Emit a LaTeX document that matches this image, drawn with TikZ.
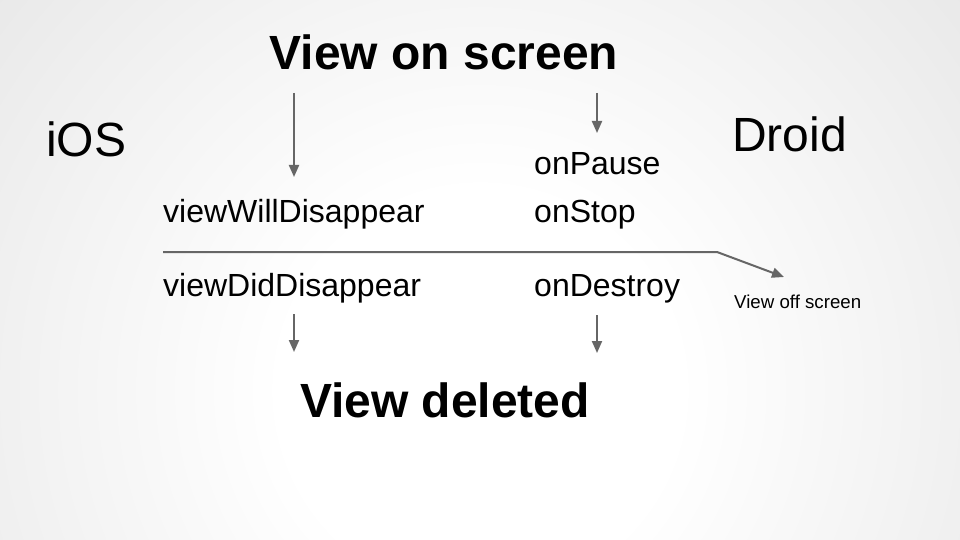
\documentclass[tikz,border=0pt]{standalone}
\usepackage{fontspec}
\setmainfont{Liberation Sans}
\usetikzlibrary{arrows.meta}

\definecolor{arrowgray}{HTML}{666666}
\pgfdeclareradialshading{slidebg}{\pgfpoint{0bp}{0bp}}{%
  color(0bp)=(white); color(8bp)=(white); color(50bp)=(black!21)}

\tikzset{%
  headline/.style={
    font=\fontsize{48}{56}\selectfont\bfseries,
    anchor=base,
    inner sep=0pt
  },
  platform/.style={
    font=\fontsize{48}{56}\selectfont,
    anchor=base west,
    inner sep=0pt
  },
  callback/.style={
    font=\fontsize{32}{38}\selectfont,
    anchor=base west,
    inner sep=0pt
  },
  remark/.style={
    font=\fontsize{18.67}{22}\selectfont,
    anchor=base west,
    inner sep=0pt
  },
  flow/.style={
    ->,
    draw=arrowgray,
    line width=2pt
  },
}

\begin{document}
\begin{tikzpicture}[x=1pt, y=-1pt, >={Triangle[length=12pt,width=10pt]}]

    % slide background
    \begin{scope}
      \clip (0,0) rectangle (960,540);
      \shade [shading=slidebg] (480,390) circle (620pt);
    \end{scope}
    \useasboundingbox (0,0) rectangle (960,540);

        \node [headline] (onscreen) at (444,70) {View on screen};
        \node [headline] (deleted) at (445,417) {View deleted};
        \node [platform] (ios) at (46,157) {iOS};
        \node [platform] (droid) at (732,152) {Droid};
        \foreach \n/\t/\x/\y in {will/viewWillDisappear/163/222,
                                 did/viewDidDisappear/163/296,
                                 pause/onPause/534/175,
                                 stop/onStop/534/222,
                                 destroy/onDestroy/534/296}
          \node [callback] (\n) at (\x,\y) {\t};
        \node [remark] (offscreen) at (734,308) {View off screen};

        \foreach \n/\x/\y in {iosA/294/93, iosB/294/177,
                              droidA/597/93, droidB/597/133,
                              iosC/294/314, iosD/294/352,
                              droidC/597/315, droidD/597/353,
                              cutL/163/252, cutR/717/252, cutEnd/784/277}
          \coordinate (\n) at (\x,\y);

        \foreach \a/\b in {iosA/iosB, droidA/droidB, iosC/iosD, droidC/droidD}
          \draw [flow] (\a) -- (\b);
        \draw [flow] (cutL) -- (cutR) -- (cutEnd);
    \end{tikzpicture}
\end{document}
